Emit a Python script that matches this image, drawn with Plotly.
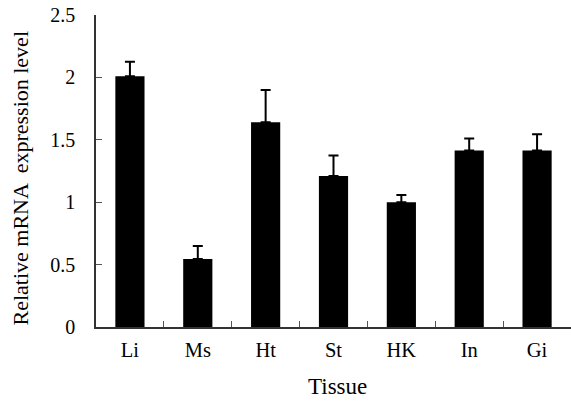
import plotly.graph_objects as go

tissues = ["Li", "Ms", "Ht", "St", "HK", "In", "Gi"]
expression = [2.01, 0.545, 1.64, 1.21, 1.00, 1.415, 1.415]
error_up = [0.115, 0.105, 0.26, 0.165, 0.058, 0.095, 0.13]

x_title = "Tissue"
y_title = "Relative mRNA  expression level"

font_family = "Liberation Serif, Times New Roman, serif"

fig = go.Figure()
fig.add_trace(go.Bar(
    x=tissues, y=expression,
    marker=dict(color="black", line=dict(width=0)),
    error_y=dict(type="data", array=error_up, symmetric=False,
                 arrayminus=[0] * len(error_up),
                 color="black", thickness=2, width=5),
))

fig.update_layout(
    width=571, height=405,
    margin=dict(l=96, r=0, t=15, b=78),
    paper_bgcolor="white", plot_bgcolor="white",
    bargap=0.57,
    showlegend=False,
    font=dict(family=font_family, color="black"),
    xaxis=dict(
        automargin=False,
        showline=True, linecolor="#333", linewidth=1.5,
        ticks="inside", ticklen=6, tickcolor="#555", tickwidth=1,
        tickson="boundaries",
        tickfont=dict(size=20.5, family=font_family),
        ticklabelstandoff=4,
        showgrid=False, zeroline=False,
    ),
    yaxis=dict(
        automargin=False,
        range=[0, 2.5],
        tickvals=[0, 0.5, 1, 1.5, 2, 2.5],
        ticktext=["0", "0.5", "1", "1.5", "2", "2.5"],
        showline=True, linecolor="#333", linewidth=1.5,
        ticks="inside", ticklen=6, tickcolor="#555", tickwidth=1,
        tickfont=dict(size=20, family=font_family),
        ticklabelstandoff=15,
        showgrid=False, zeroline=False,
    ),
    annotations=[
        dict(text=x_title, xref="paper", yref="paper", x=0.509, y=-0.19,
             xanchor="center", yanchor="middle", showarrow=False,
             font=dict(size=23, family=font_family)),
        dict(text=y_title, xref="paper", yref="paper", x=-0.158, y=0.479,
             xanchor="center", yanchor="middle", showarrow=False, textangle=-90,
             font=dict(size=22, family=font_family)),
    ],
)

fig.write_html("out.html", config={"displayModeBar": False},
               post_script="document.body.style.margin='0';document.body.style.padding='0';")
